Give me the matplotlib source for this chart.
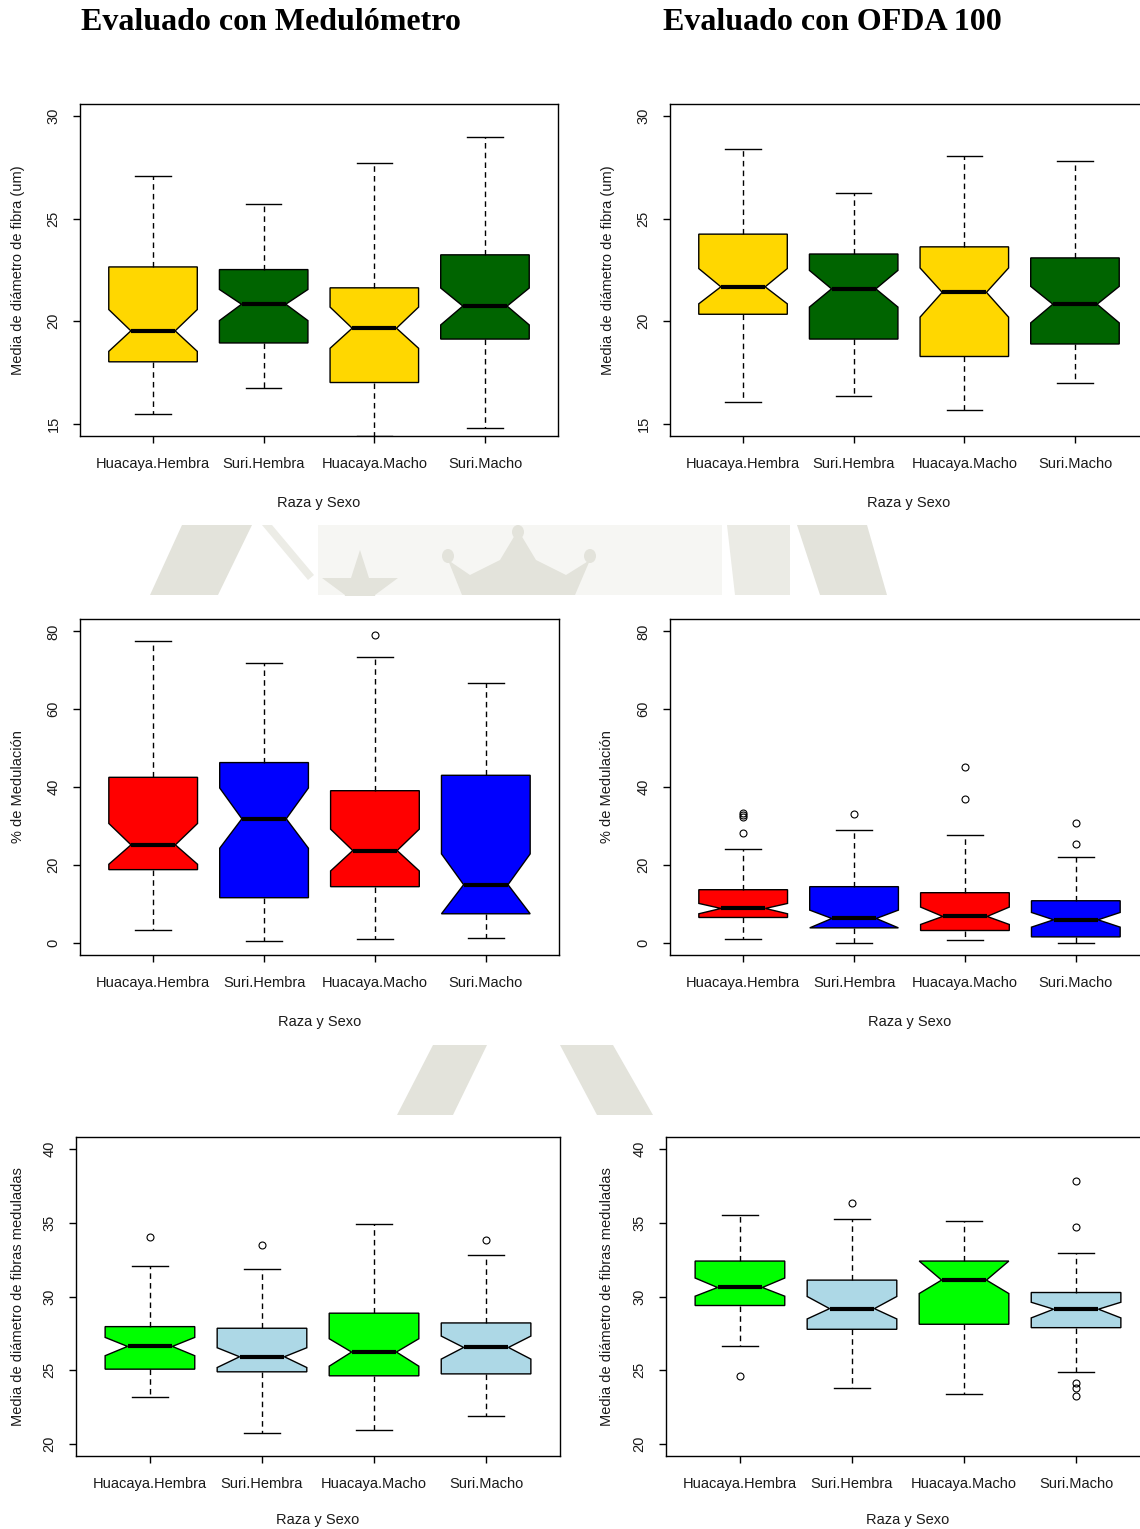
import matplotlib
matplotlib.use("Agg")
import matplotlib.pyplot as plt
from matplotlib.patches import Polygon, Rectangle, Ellipse

W, H = 1140, 1529
DPI = 100

groups = ["Huacaya.Hembra", "Suri.Hembra", "Huacaya.Macho", "Suri.Macho"]

# one row per group: whislo, q1, cilo, med, cihi, q3, whishi
diam_medulometro = [
    [15.47, 18.02, 18.53, 19.53, 20.57, 22.65, 27.09],
    [16.73, 18.94, 20.03, 20.83, 21.55, 22.52, 25.74],
    [14.40, 17.01, 18.68, 19.66, 20.69, 21.63, 27.73],
    [14.79, 19.13, 19.82, 20.74, 21.62, 23.24, 28.97],
]
diam_medulometro_out = [[], [], [], []]

diam_ofda = [
    [16.05, 20.34, 20.85, 21.68, 22.57, 24.25, 28.40],
    [16.34, 19.13, 20.69, 21.58, 22.48, 23.28, 26.27],
    [15.65, 18.28, 20.20, 21.41, 22.60, 23.63, 28.06],
    [17.01, 18.89, 19.92, 20.83, 21.70, 23.09, 27.83],
]
diam_ofda_out = [[], [], [], []]

medul_medulometro = [
    [3.27, 18.75, 20.13, 25.12, 30.62, 42.49, 77.42],
    [0.43, 11.53, 24.26, 31.83, 39.74, 46.28, 72.00],
    [0.95, 14.37, 18.41, 23.66, 29.16, 39.05, 73.55],
    [1.20, 7.40, 7.40, 14.88, 22.80, 43.01, 66.67],
]
medul_medulometro_out = [[], [], [78.97], []]

medul_ofda = [
    [0.95, 6.45, 7.40, 8.77, 10.06, 13.59, 24.09],
    [0.00, 3.78, 3.78, 6.19, 8.34, 14.37, 28.99],
    [0.69, 3.10, 4.65, 6.71, 9.12, 12.82, 27.70],
    [0.00, 1.46, 3.96, 5.85, 7.74, 10.75, 22.10],
]
medul_ofda_out = [[33.2, 32.8, 32.4, 28.3], [33.1], [45.25, 36.99], [30.8, 25.46]]

fibmed_medulometro = [
    [23.22, 25.08, 25.99, 26.62, 27.23, 27.96, 32.09],
    [20.77, 24.90, 25.19, 25.92, 26.53, 27.85, 31.84],
    [20.95, 24.63, 25.28, 26.24, 27.14, 28.87, 34.90],
    [21.93, 24.76, 25.76, 26.55, 27.32, 28.21, 32.79],
]
fibmed_medulometro_out = [[34.01], [33.49], [], [33.81]]

fibmed_ofda = [
    [26.62, 29.39, 30.02, 30.61, 31.25, 32.40, 35.49],
    [23.79, 27.78, 28.48, 29.18, 30.00, 31.11, 35.28],
    [23.40, 28.12, 30.20, 31.11, 32.40, 32.40, 35.10],
    [24.90, 27.89, 28.55, 29.14, 29.61, 30.27, 32.93],
]
fibmed_ofda_out = [[24.63], [36.33], [], [37.82, 34.72, 24.15, 23.83, 23.27]]

diam_colors = ["#FFD700", "#006400", "#FFD700", "#006400"]
medul_colors = ["#FF0000", "#0000FF", "#FF0000", "#0000FF"]
fibmed_colors = ["#00FF00", "#ADD8E6", "#00FF00", "#ADD8E6"]

plt.rcParams["font.family"] = ["Liberation Sans", "DejaVu Sans"]
LABEL_SIZE = 10.5
EMBLEM = "#e3e3db"


def px_axes(fig, left, top, right, bottom):
    return fig.add_axes([left / W, 1 - bottom / H, (right - left) / W, (bottom - top) / H])


def to_stats(rows, outliers):
    stats = []
    for row, fl in zip(rows, outliers):
        whislo, q1, cilo, med, cihi, q3, whishi = row
        stats.append(dict(whislo=whislo, q1=q1, cilo=cilo, med=med, cihi=cihi,
                          q3=q3, whishi=whishi, fliers=fl))
    return stats


def draw_panel(ax, rows, outliers, colors, ylim, yticks, ylabel, ylabel_px, xlabel_px, height_px):
    bp = ax.bxp(
        to_stats(rows, outliers),
        positions=[1, 2, 3, 4],
        widths=0.8,
        shownotches=True,
        patch_artist=True,
        capwidths=0.32,
        boxprops=dict(edgecolor="black", linewidth=1.0),
        whiskerprops=dict(color="black", linewidth=1.0, linestyle=(0, (4, 3))),
        capprops=dict(color="black", linewidth=1.0),
        medianprops=dict(color="black", linewidth=3.0, solid_capstyle="butt"),
        flierprops=dict(marker="o", markerfacecolor="none", markeredgecolor="black",
                        markersize=5, markeredgewidth=0.8),
    )
    for patch, c in zip(bp["boxes"], colors):
        patch.set_facecolor(c)

    lo, hi = ylim
    pad = 0.04 * (hi - lo)
    ax.set_ylim(lo - pad, hi + pad)
    ax.set_xlim(0.34, 4.66)
    ax.set_yticks(yticks)
    ax.set_yticklabels([str(t) for t in yticks], rotation=90, va="center")
    ax.set_xticks([1, 2, 3, 4])
    ax.set_xticklabels(groups)
    ax.tick_params(axis="both", direction="out", length=5, width=1, color="black",
                   labelsize=LABEL_SIZE, labelcolor="#1a1a1a")
    ax.tick_params(axis="x", pad=10)
    ax.tick_params(axis="y", pad=9)
    for sp in ax.spines.values():
        sp.set_linewidth(1.0)
        sp.set_color("black")

    width_px = ax.get_position().width * W
    ax.text(-ylabel_px / width_px, 0.5, ylabel, transform=ax.transAxes, rotation=90,
            ha="center", va="center", fontsize=LABEL_SIZE, color="#1a1a1a")
    ax.text(0.5, -xlabel_px / height_px, "Raza y Sexo", transform=ax.transAxes,
            ha="center", va="center", fontsize=LABEL_SIZE, color="#1a1a1a")


def draw_emblem(bg):
    # faint seal fragments showing through between the rows of panels
    band = Rectangle((0, 525), W, 70, transform=bg.transData)
    bg.add_patch(Rectangle((318, 525), 404, 70, color="#f6f6f3", lw=0))
    bg.add_patch(Polygon([(182, 525), (252, 525), (218, 595), (150, 595)], color=EMBLEM, lw=0))
    bg.add_patch(Polygon([(262, 525), (272, 525), (314, 575), (308, 580)], color="#ecece6", lw=0))
    star, = bg.plot([360], [590], marker="*", markersize=58, color=EMBLEM, mew=0)
    star.set_clip_path(band)
    bg.add_patch(Polygon([(448, 560), (470, 575), (500, 560), (518, 530), (536, 560),
                          (566, 575), (590, 560), (575, 595), (462, 595)], color=EMBLEM, lw=0))
    for cx, cy in [(448, 556), (590, 556), (518, 532)]:
        bg.add_patch(Ellipse((cx, cy), 12, 14, color=EMBLEM, lw=0))
    bg.add_patch(Polygon([(727, 525), (790, 525), (790, 595), (735, 595)], color="#ebebe5", lw=0))
    bg.add_patch(Polygon([(797, 525), (867, 525), (887, 595), (820, 595)], color=EMBLEM, lw=0))
    bg.add_patch(Polygon([(433, 1045), (487, 1045), (453, 1115), (397, 1115)], color=EMBLEM, lw=0))
    bg.add_patch(Polygon([(560, 1045), (613, 1045), (653, 1115), (597, 1115)], color=EMBLEM, lw=0))


fig = plt.figure(figsize=(W / DPI, H / DPI), dpi=DPI, facecolor="white")

bg = fig.add_axes([0, 0, 1, 1], zorder=-1)
bg.set_xlim(0, W)
bg.set_ylim(H, 0)
bg.axis("off")
draw_emblem(bg)

fig.text(271 / W, 1 - 22 / H, "Evaluado con Medulómetro", ha="center", va="center",
         fontsize=23, fontweight="bold", family="Liberation Serif")
fig.text(832 / W, 1 - 22 / H, "Evaluado con OFDA 100", ha="center", va="center",
         fontsize=23, fontweight="bold", family="Liberation Serif")

ylab_diam = "Media de diámetro de fibra (um)"
ylab_medul = "% de Medulación"
ylab_fibmed = "Media de diámetro de fibras meduladas"

ax = px_axes(fig, 80, 104, 558, 436)
draw_panel(ax, diam_medulometro, diam_medulometro_out, diam_colors, (15, 30),
           [15, 20, 25, 30], ylab_diam, 62, 67, 332)
ax = px_axes(fig, 670, 104, 1148, 436)
draw_panel(ax, diam_ofda, diam_ofda_out, diam_colors, (15, 30),
           [15, 20, 25, 30], ylab_diam, 62, 67, 332)

ax = px_axes(fig, 80, 619, 559, 955)
draw_panel(ax, medul_medulometro, medul_medulometro_out, medul_colors, (0, 80),
           [0, 20, 40, 60, 80], ylab_medul, 62, 67, 336)
ax = px_axes(fig, 670, 619, 1149, 955)
draw_panel(ax, medul_ofda, medul_ofda_out, medul_colors, (0, 80),
           [0, 20, 40, 60, 80], ylab_medul, 63, 67, 336)

ax = px_axes(fig, 76, 1137, 560, 1456)
draw_panel(ax, fibmed_medulometro, fibmed_medulometro_out, fibmed_colors, (20, 40),
           [20, 25, 30, 35, 40], ylab_fibmed, 58, 64, 319)
ax = px_axes(fig, 666, 1137, 1150, 1456)
draw_panel(ax, fibmed_ofda, fibmed_ofda_out, fibmed_colors, (20, 40),
           [20, 25, 30, 35, 40], ylab_fibmed, 59, 64, 319)

fig.savefig("out.png", dpi=DPI, facecolor="white")
